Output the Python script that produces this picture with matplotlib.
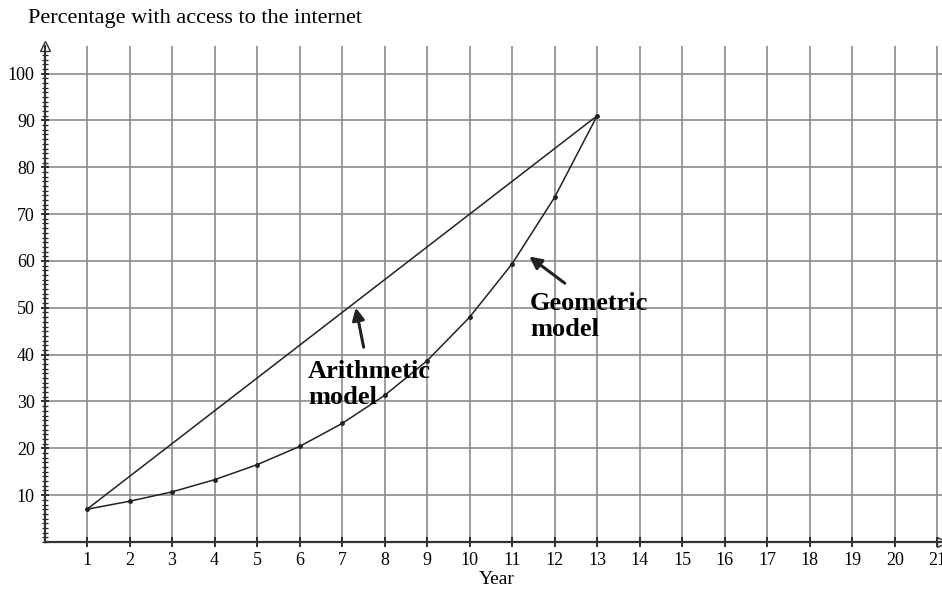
import matplotlib
matplotlib.use('Agg')
import matplotlib.pyplot as plt
from matplotlib.ticker import MultipleLocator

plt.rcParams['font.family'] = ['Liberation Serif', 'DejaVu Serif']

# data
years = [1, 2, 3, 4, 5, 6, 7, 8, 9, 10, 11, 12, 13]
arithmetic = [7, 14, 21, 28, 35, 42, 49, 56, 63, 70, 77, 84, 91]
geometric = [7, 8.7, 10.7, 13.3, 16.5, 20.4, 25.3, 31.3, 38.7, 48.0, 59.4, 73.6, 91]
x_ticks = list(range(1, 22))
y_ticks = list(range(10, 101, 10))

fig = plt.figure(figsize=(9.42, 5.9), dpi=100)
ax = fig.add_axes([44.5 / 942, 48 / 590, 897 / 942, 496.5 / 590])
ax.set_xlim(0, 21.1)
ax.set_ylim(0, 106)

ax.grid(True, color='#8c8c8c', linewidth=1.2)
ax.set_axisbelow(True)

ax.plot(years, arithmetic, color='#222222', linewidth=1.1)
ax.plot(years, geometric, color='#222222', linewidth=1.1,
        marker='o', markersize=2.5)

for s in ['top', 'right']:
    ax.spines[s].set_visible(False)
for s in ['left', 'bottom']:
    ax.spines[s].set_linewidth(1.6)
    ax.spines[s].set_color('#333333')

ax.set_xticks(x_ticks)
ax.set_yticks(y_ticks)
ax.yaxis.set_minor_locator(MultipleLocator(1))
ax.tick_params(axis='x', which='major', direction='inout', length=7,
               width=1.3, color='#222222', labelsize=13, pad=4)
ax.tick_params(axis='y', which='major', direction='inout', length=6,
               width=1.3, color='#222222', labelsize=13, pad=4)
ax.tick_params(axis='y', which='minor', direction='inout', length=4.5,
               width=0.9, color='#222222')

# axis arrowheads
ax.plot([21.1], [0], marker='>', markersize=7, color='#333333',
        markerfacecolor='white', clip_on=False)
ax.plot([0], [106], marker='^', markersize=7, color='#333333',
        markerfacecolor='white', clip_on=False)

fig.text(497 / 942, 1 - 580 / 590, 'Year', fontsize=14, ha='center', va='center')
fig.text(28 / 942, 1 - 19 / 590, 'Percentage with access to the internet',
         fontsize=16, va='center', ha='left')

ax.text(6.2, 38.8, 'Arithmetic\nmodel', fontsize=19, fontweight='bold',
        va='top', ha='left', linespacing=1.15)
ax.annotate('', xy=(7.31, 50.6), xytext=(7.52, 41.0),
            arrowprops=dict(arrowstyle='-|>', color='#222222', lw=2.2,
                            mutation_scale=18))
ax.text(11.42, 53.4, 'Geometric\nmodel', fontsize=19, fontweight='bold',
        va='top', ha='left', linespacing=1.15)
ax.annotate('', xy=(11.35, 61.3), xytext=(12.29, 54.9),
            arrowprops=dict(arrowstyle='-|>', color='#222222', lw=2.2,
                            mutation_scale=18))

fig.savefig('out.png', dpi=100)
